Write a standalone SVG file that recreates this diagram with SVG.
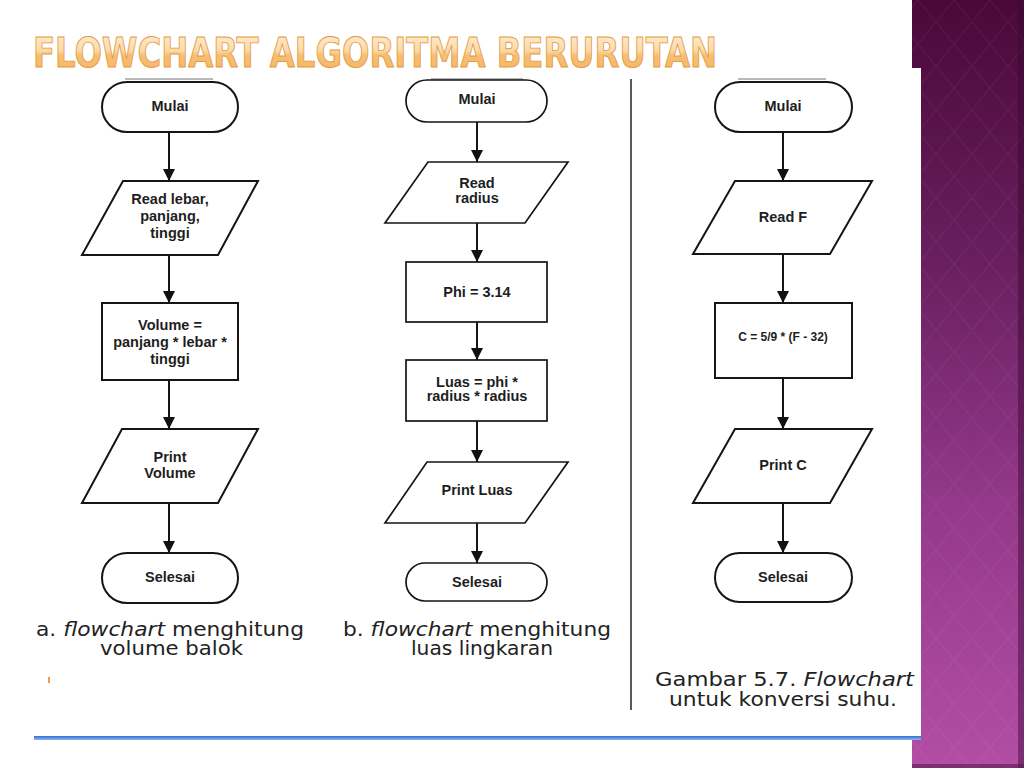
<svg xmlns="http://www.w3.org/2000/svg" width="1024" height="768" viewBox="0 0 1024 768">
<defs>
  <linearGradient id="band" x1="0" y1="0" x2="0" y2="1">
    <stop offset="0" stop-color="#4a0838"/>
    <stop offset="0.35" stop-color="#6a2060"/>
    <stop offset="0.65" stop-color="#93388a"/>
    <stop offset="1" stop-color="#b24ea4"/>
  </linearGradient>
  <linearGradient id="tg" x1="0" y1="0" x2="0" y2="1">
    <stop offset="0" stop-color="#fff1da"/>
    <stop offset="0.45" stop-color="#fcd9a6"/>
    <stop offset="0.55" stop-color="#f7be72"/>
    <stop offset="1" stop-color="#f4b562"/>
  </linearGradient>
  <linearGradient id="blue" x1="0" y1="0" x2="0" y2="1">
    <stop offset="0" stop-color="#2f6fd6"/>
    <stop offset="1" stop-color="#8fb6ee"/>
  </linearGradient>
  <pattern id="diam" width="36" height="44" patternUnits="userSpaceOnUse">
    <path d="M18,0 L36,22 L18,44 L0,22 Z" fill="none" stroke="#ffffff" stroke-opacity="0.035" stroke-width="1.5"/>
  </pattern>
  <marker id="ah" markerWidth="12" markerHeight="12" refX="12" refY="6" orient="auto" markerUnits="userSpaceOnUse">
    <path d="M0,0 L12,6 L0,12 Z" fill="#111"/>
  </marker>
  <style>
    .shape { fill: #ffffff; stroke: #151515; stroke-width: 2; }
    .thin { stroke-width: 1.7; }
    .lbl { font-family: "Liberation Sans", Arial, sans-serif; font-weight: bold; font-size: 14.5px; fill: #1e1e1e; text-anchor: middle; }
    .small { font-size: 12px; }
    .conn line { stroke: #151515; stroke-width: 2; marker-end: url(#ah); }
    .cap { font-family: "DejaVu Sans", Verdana, sans-serif; font-size: 19px; fill: #222; }
    .it { font-style: italic; }
  </style>
</defs>

<rect x="0" y="0" width="1024" height="768" fill="#ffffff"/>

<!-- purple side band -->
<rect x="912" y="0" width="112" height="768" fill="url(#band)"/>
<rect x="912" y="0" width="112" height="768" fill="url(#diam)"/>
<rect x="1018" y="0" width="6" height="768" fill="#3a0630" fill-opacity="0.45"/>
<rect x="912" y="764" width="112" height="4" fill="#5a1a50" fill-opacity="0.6"/>

<!-- white picture area -->
<rect x="34" y="68" width="887" height="672" fill="#ffffff"/>
<rect x="34" y="736" width="887" height="4" fill="url(#blue)"/>

<!-- title -->
<text x="33" y="67" font-family="DejaVu Sans Condensed, DejaVu Sans, sans-serif" font-weight="bold" font-size="41" textLength="684" lengthAdjust="spacingAndGlyphs" fill="url(#tg)" stroke="#e39a44" stroke-width="0.9">FLOWCHART ALGORITMA BERURUTAN</text>

<!-- faint scan edges -->
<g stroke="#b8b8b8" stroke-width="2">
  <line x1="125" y1="79" x2="213" y2="79"/>
  <line x1="431" y1="79" x2="523" y2="79"/>
  <line x1="738" y1="79" x2="826" y2="79"/>
</g>

<!-- divider -->
<line x1="631" y1="79" x2="631" y2="710" stroke="#222" stroke-width="1.5"/>

<!-- small mark -->
<rect x="48" y="677" width="2" height="6" fill="#e8a050"/>

<!-- connectors -->
<g id="connectors" class="conn">
  <line x1="169" y1="132" x2="169" y2="181"/>
  <line x1="169" y1="255" x2="169" y2="303"/>
  <line x1="169" y1="380" x2="169" y2="429"/>
  <line x1="169" y1="503" x2="169" y2="553"/>

  <line x1="477" y1="122" x2="477" y2="162"/>
  <line x1="477" y1="223" x2="477" y2="262"/>
  <line x1="477" y1="322" x2="477" y2="360"/>
  <line x1="477" y1="421" x2="477" y2="462"/>
  <line x1="477" y1="523" x2="477" y2="563"/>

  <line x1="783" y1="132" x2="783" y2="181"/>
  <line x1="783" y1="254" x2="783" y2="303"/>
  <line x1="783" y1="378" x2="783" y2="429"/>
  <line x1="783" y1="503" x2="783" y2="553"/>
</g>

<!-- chart A -->
<g id="a-mulai">
  <rect class="shape" x="102" y="82" width="136" height="50" rx="25"/>
  <text class="lbl" x="170" y="111">Mulai</text>
</g>
<g id="a-read">
  <polygon class="shape" points="123,181 258,181 218,255 82,255"/>
  <text class="lbl" x="170" y="204">Read lebar,</text>
  <text class="lbl" x="170" y="221">panjang,</text>
  <text class="lbl" x="170" y="238">tinggi</text>
</g>
<g id="a-volume">
  <rect class="shape" x="102" y="303" width="136" height="77"/>
  <text class="lbl" x="170" y="330">Volume =</text>
  <text class="lbl" x="170" y="347">panjang * lebar *</text>
  <text class="lbl" x="170" y="364">tinggi</text>
</g>
<g id="a-print">
  <polygon class="shape" points="122,429 258,429 218,503 82,503"/>
  <text class="lbl" x="170" y="462">Print</text>
  <text class="lbl" x="170" y="478">Volume</text>
</g>
<g id="a-selesai">
  <rect class="shape" x="102" y="553" width="136" height="50" rx="25"/>
  <text class="lbl" x="170" y="582">Selesai</text>
</g>

<!-- chart B -->
<g id="b-mulai">
  <rect class="shape thin" x="406" y="80" width="141" height="42" rx="21"/>
  <text class="lbl" x="477" y="104">Mulai</text>
</g>
<g id="b-read">
  <polygon class="shape thin" points="428,162 568,162 525,223 385,223"/>
  <text class="lbl" x="477" y="188">Read</text>
  <text class="lbl" x="477" y="203">radius</text>
</g>
<g id="b-phi">
  <rect class="shape thin" x="406" y="262" width="141" height="60"/>
  <text class="lbl" x="477" y="297">Phi = 3.14</text>
</g>
<g id="b-luas">
  <rect class="shape thin" x="406" y="360" width="141" height="61"/>
  <text class="lbl" x="477" y="387">Luas = phi *</text>
  <text class="lbl" x="477" y="401">radius * radius</text>
</g>
<g id="b-print">
  <polygon class="shape thin" points="427,462 568,462 525,523 385,523"/>
  <text class="lbl" x="477" y="495">Print Luas</text>
</g>
<g id="b-selesai">
  <rect class="shape thin" x="406" y="563" width="141" height="38" rx="19"/>
  <text class="lbl" x="477" y="587">Selesai</text>
</g>

<!-- chart C -->
<g id="c-mulai">
  <rect class="shape" x="715" y="82" width="137" height="50" rx="25"/>
  <text class="lbl" x="783" y="111">Mulai</text>
</g>
<g id="c-read">
  <polygon class="shape" points="735,181 872,181 830,254 693,254"/>
  <text class="lbl" x="783" y="222">Read F</text>
</g>
<g id="c-calc">
  <rect class="shape" x="715" y="303" width="137" height="75"/>
  <text class="lbl small" x="783" y="341">C = 5/9 * (F - 32)</text>
</g>
<g id="c-print">
  <polygon class="shape" points="735,429 872,429 830,503 693,503"/>
  <text class="lbl" x="783" y="470">Print C</text>
</g>
<g id="c-selesai">
  <rect class="shape" x="715" y="553" width="137" height="49" rx="24.5"/>
  <text class="lbl" x="783" y="582">Selesai</text>
</g>

<!-- captions -->
<text class="cap" x="36" y="636" textLength="268" lengthAdjust="spacingAndGlyphs">a. <tspan class="it">flowchart</tspan> menghitung</text>
<text class="cap" x="100" y="655" textLength="143" lengthAdjust="spacingAndGlyphs">volume balok</text>
<text class="cap" x="343" y="636" textLength="268" lengthAdjust="spacingAndGlyphs">b. <tspan class="it">flowchart</tspan> menghitung</text>
<text class="cap" x="411" y="655" textLength="142" lengthAdjust="spacingAndGlyphs">luas lingkaran</text>
<text class="cap" x="655" y="686" textLength="259" lengthAdjust="spacingAndGlyphs">Gambar 5.7.  <tspan class="it">Flowchart</tspan></text>
<text class="cap" x="669" y="706" textLength="228" lengthAdjust="spacingAndGlyphs">untuk konversi suhu.</text>
</svg>
